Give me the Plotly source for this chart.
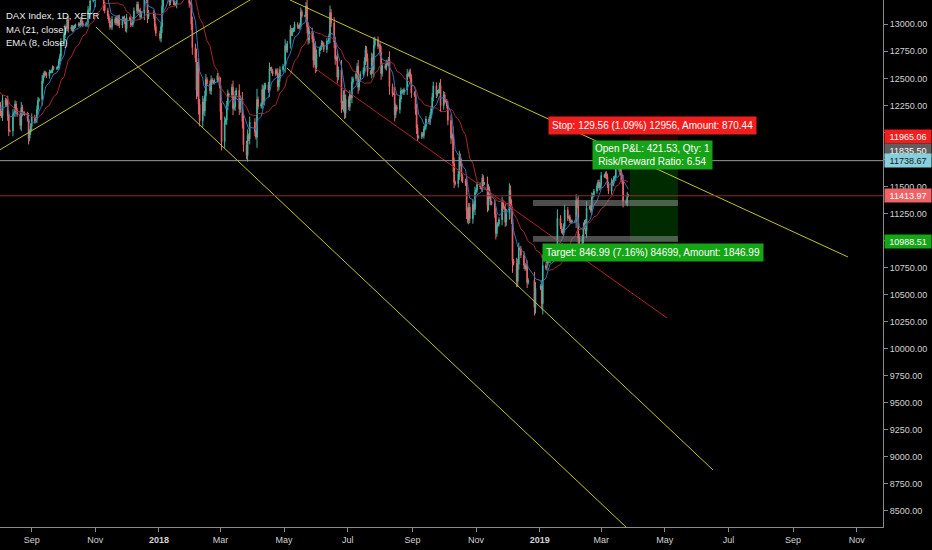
import pandas as pd
import numpy as np
import plotly.graph_objects as go

# ---------------- daily closes (DAX, XETR) read per month ----------------
close_2017_07 = [12475, 12437, 12453, 12381, 12389, 12445, 12437, 12627, 12641, 12631,
                 12587, 12430, 12447, 12240, 12240, 12209, 12265, 12305, 12212, 12162, 12118]
close_2017_08 = [12251, 12181, 12154, 12298, 12257, 12293, 12154, 12014, 12014, 12165,
                 12177, 12263, 12204, 12165, 12065, 12230, 12174, 12180, 12167, 12123,
                 11945, 12002, 12055]
close_2017_09 = [12142, 12102, 12123, 12214, 12296, 12304, 12475, 12524, 12553, 12540,
                 12519, 12559, 12561, 12569, 12600, 12592, 12595, 12605, 12657, 12704, 12829]
close_2017_10 = [12902, 12970, 12968, 13043, 12956, 12976, 12949, 12970, 12982, 12992,
                 13003, 12995, 13043, 13013, 12991, 13003, 13013, 13128, 13134, 13217,
                 13229, 13229]
close_2017_11 = [13465, 13440, 13479, 13468, 13478, 13382, 13183, 13127, 13074, 13034,
                 12977, 12976, 13047, 13015, 13058, 13008, 13060, 12993, 13048, 13059,
                 13023, 12960]
close_2017_12 = [13058, 13049, 12999, 12998, 13045, 13124, 13183, 13125, 13126, 13068,
                 13103, 13312, 13430, 13252, 13069, 13110, 13072, 12979, 12918]
close_2018_01 = [12871, 12978, 13167, 13320, 13367, 13385, 13282, 13202, 13245, 13201,
                 13183, 13184, 13281, 13434, 13463, 13559, 13415, 13298, 13340, 13325,
                 13197, 13189]
close_2018_02 = [13004, 12785, 12687, 12393, 12590, 12260, 12107, 12282, 12197, 12339,
                 12490, 12451, 12385, 12488, 12470, 12461, 12483, 12527, 12490, 12435]
close_2018_03 = [12190, 11914, 12091, 12114, 12245, 12356, 12346, 12418, 12221, 12238,
                 12345, 12390, 12217, 12307, 12309, 12100, 11886, 11787, 11970, 11940, 12096]
close_2018_04 = [12002, 11957, 12305, 12241, 12261, 12397, 12293, 12415, 12442, 12391,
                 12585, 12591, 12567, 12540, 12572, 12550, 12422, 12500, 12580, 12612]
close_2018_05 = [12802, 12763, 12820, 12948, 12912, 12944, 12955, 13001, 12977, 12970,
                 12996, 13114, 13077, 13078, 13170, 12977, 12855, 12938, 12863, 12666,
                 12784, 12605]
close_2018_06 = [12724, 12770, 12787, 12830, 12811, 12767, 12842, 12842, 12891, 13107,
                 13011, 12835, 12677, 12695, 12512, 12580, 12270, 12233, 12348, 12177, 12306]
close_2018_07 = [12238, 12350, 12318, 12465, 12497, 12543, 12610, 12418, 12492, 12541,
                 12580, 12662, 12765, 12686, 12561, 12548, 12690, 12579, 12809, 12860,
                 12798, 12806]
close_2018_08 = [12737, 12546, 12616, 12598, 12648, 12634, 12676, 12424, 12358, 12358,
                 12163, 12237, 12211, 12309, 12384, 12385, 12366, 12395, 12538, 12527,
                 12561, 12494, 12364]
close_2018_09 = [12346, 12210, 12040, 11955, 11959, 11987, 11970, 12032, 12055, 12124,
                 12096, 12158, 12219, 12326, 12431, 12350, 12375, 12385, 12435, 12247]
close_2018_10 = [12346, 12287, 12287, 12244, 12111, 11947, 11977, 11712, 11539, 11524,
                 11614, 11777, 11715, 11589, 11553, 11524, 11274, 11191, 11307, 11201,
                 11335, 11287, 11447]
close_2018_11 = [11468, 11519, 11494, 11484, 11579, 11527, 11529, 11325, 11472, 11412,
                 11353, 11341, 11244, 11066, 11138, 11154, 11193, 11354, 11309, 11298,
                 11170, 11257]
close_2018_12 = [11465, 11335, 11200, 10811, 10788, 10622, 10780, 10931, 10924, 10865,
                 10772, 10740, 10766, 10611, 10634, 10381, 10559]
close_2019_01 = [10580, 10416, 10768, 10747, 10804, 10894, 10821, 10888, 10856, 10891,
                 10931, 10919, 11205, 11136, 11090, 11071, 11131, 11282, 11210, 11219,
                 11182, 11173]
close_2019_02 = [11180, 11176, 11368, 11324, 11022, 10906, 11014, 11127, 11167, 11089,
                 11299, 11309, 11278, 11402, 11423, 11457, 11505, 11540, 11487, 11516]
close_2019_03 = [11602, 11593, 11620, 11588, 11517, 11458, 11543, 11525, 11572, 11587,
                 11685, 11657, 11788, 11603, 11550, 11364, 11346, 11419, 11414]

months = [
    ("2017-07", close_2017_07), ("2017-08", close_2017_08), ("2017-09", close_2017_09),
    ("2017-10", close_2017_10), ("2017-11", close_2017_11), ("2017-12", close_2017_12),
    ("2018-01", close_2018_01), ("2018-02", close_2018_02), ("2018-03", close_2018_03),
    ("2018-04", close_2018_04), ("2018-05", close_2018_05), ("2018-06", close_2018_06),
    ("2018-07", close_2018_07), ("2018-08", close_2018_08), ("2018-09", close_2018_09),
    ("2018-10", close_2018_10), ("2018-11", close_2018_11), ("2018-12", close_2018_12),
    ("2019-01", close_2019_01), ("2019-02", close_2019_02), ("2019-03", close_2019_03),
]
exchange_holidays = ["2017-12-25", "2017-12-26", "2018-01-01", "2018-03-30", "2018-04-02",
                     "2018-05-01", "2018-12-24", "2018-12-25", "2018-12-26", "2018-12-31",
                     "2019-01-01"]

# ---------------- drawings (dates, prices) ----------------
trend_yellow = {
    "asc":   (["2017-08-01 14:00", "2018-05-16 05:00"], [11840, 13502]),
    "outer": (["2017-11-01 14:00", "2019-04-03 07:00"], [12975, 8264]),
    "inner": (["2018-05-03 17:00", "2019-06-16 05:00"], [12596, 8878]),
    "upper": (["2018-05-06 14:00", "2019-10-23 14:00"], [13225, 10848]),
}
trend_red_x = ["2018-05-28 15:00", "2019-05-03 02:00"]
trend_red_y = [12605, 10284]

last_price = 11413.97
hline_price = 11738.67
entry_price = 11835.50
stop_price = 11965.06
target_price = 10988.51
pos_x = ["2019-03-28 14:00", "2019-05-13 14:00"]
pos_label_x = "2019-04-19 14:00"
zone_x = ["2018-12-25 14:00", "2019-05-13 14:00"]
zone_upper = [11320, 11375]
zone_lower = [10988, 11042]

x_tickvals = ["2017-09-01", "2017-11-01", "2018-01-01", "2018-03-01", "2018-05-01",
              "2018-07-01", "2018-09-01", "2018-11-01", "2019-01-01", "2019-03-01",
              "2019-05-01", "2019-07-01", "2019-09-01", "2019-11-01"]
x_ticktext = ["Sep", "Nov", "<b>2018</b>", "Mar", "May", "Jul", "Sep", "Nov",
              "<b>2019</b>", "Mar", "May", "Jul", "Sep", "Nov"]

y_tickvals = [8500, 8750, 9000, 9250, 9500, 9750, 10000, 10250, 10500, 10750, 11000,
              11250, 11500, 11750, 12000, 12250, 12500, 12750, 13000]
y_hidden = [11000, 11750, 12000]   # covered by the price labels in the reference

# ---------------- build series ----------------
hol = pd.to_datetime(exchange_holidays)
dates, closes = [], []
for ym, vals in months:
    start = pd.Timestamp(ym + "-01")
    bd = pd.bdate_range(start, start + pd.offsets.MonthEnd(0))
    bd = bd[~bd.isin(hol)]
    n = min(len(bd), len(vals))
    dates.extend(list(bd[:n]))
    closes.extend(vals[:n])

close = np.array(closes, dtype=float)
opens = np.concatenate([[close[0]], close[:-1]])
body_hi = np.maximum(opens, close)
body_lo = np.minimum(opens, close)
wick = 0.25 * np.abs(close - opens) + 12
highs = body_hi + wick
lows = body_lo - wick

s = pd.Series(close, index=pd.DatetimeIndex(dates))
ma21 = s.rolling(21).mean()
ema8 = s.ewm(span=8, adjust=False).mean()

BG = "#000000"
AX = "#8a8a8a"
TXT = "#d2d2d2"
FONT = "Liberation Sans"

fig = go.Figure()

# position tool zones
fig.add_shape(type="rect", xref="x", yref="y", x0=pos_x[0], x1=pos_x[1],
              y0=target_price, y1=entry_price, fillcolor="rgba(0,150,0,0.28)",
              line=dict(width=0), layer="below")
fig.add_shape(type="rect", xref="x", yref="y", x0=pos_x[0], x1=pos_x[1],
              y0=entry_price, y1=stop_price, fillcolor="rgba(170,0,0,0.3)",
              line=dict(width=0), layer="below")

fig.add_trace(go.Candlestick(
    x=dates, open=opens, high=highs, low=lows, close=close,
    increasing=dict(line=dict(color="#3fb8a6", width=1), fillcolor="#3fb8a6"),
    decreasing=dict(line=dict(color="#f0646a", width=1), fillcolor="#f0646a"),
    whiskerwidth=0, showlegend=False, hoverinfo="skip"))

fig.add_trace(go.Scatter(x=ma21.index, y=ma21.values, mode="lines",
                         line=dict(color="#a3262e", width=1), showlegend=False, hoverinfo="skip"))
fig.add_trace(go.Scatter(x=ema8.index, y=ema8.values, mode="lines",
                         line=dict(color="#2f74b5", width=1), showlegend=False, hoverinfo="skip"))

for key, (xs, ys) in trend_yellow.items():
    fig.add_trace(go.Scatter(x=xs, y=ys, mode="lines", line=dict(color="#c2c22e", width=1),
                             showlegend=False, hoverinfo="skip"))
fig.add_trace(go.Scatter(x=trend_red_x, y=trend_red_y, mode="lines",
                         line=dict(color="#b0202c", width=1), showlegend=False, hoverinfo="skip"))

# horizontal lines
fig.add_shape(type="line", xref="paper", yref="y", x0=0, x1=1, y0=hline_price, y1=hline_price,
              line=dict(color="#9a9a9a", width=1))
fig.add_shape(type="line", xref="paper", yref="y", x0=0, x1=1, y0=last_price, y1=last_price,
              line=dict(color="#8e2a30", width=1))

# grey zones
for z in (zone_upper, zone_lower):
    fig.add_shape(type="rect", xref="x", yref="y", x0=zone_x[0], x1=zone_x[1],
                  y0=z[0], y1=z[1], fillcolor="rgba(140,140,140,0.55)",
                  line=dict(width=0), layer="above")

# position labels
lab_font = dict(family=FONT, size=10, color="#ffffff")
fig.add_annotation(x=pos_label_x, y=stop_price, xref="x", yref="y", yanchor="bottom", yshift=1,
                   text="Stop: 129.56 (1.09%) 12956, Amount: 870.44", showarrow=False,
                   bgcolor="#f21d1d", borderpad=3, font=lab_font)
fig.add_annotation(x=pos_label_x, y=11790, xref="x", yref="y", yanchor="middle",
                   text="Open P&L: 421.53, Qty: 1<br>Risk/Reward Ratio: 6.54", showarrow=False,
                   bgcolor="#17a317", borderpad=2, font=lab_font)
fig.add_annotation(x=pos_label_x, y=target_price, xref="x", yref="y", yanchor="top", yshift=-1,
                   text="Target: 846.99 (7.16%) 84699, Amount: 1846.99", showarrow=False,
                   bgcolor="#14a614", borderpad=3, font=lab_font)

# axis price labels
axis_labels = [
    (stop_price, "#f21d1d", "#ffffff"),
    (entry_price, "#5e5e5e", "#ffffff"),
    (hline_price, "#86d0de", "#1a1a1a"),
    (last_price, "#ef6366", "#ffffff"),
    (target_price, "#14a614", "#ffffff"),
]
for price, bg, fg in axis_labels:
    fig.add_annotation(x=1, xref="paper", y=price, yref="y", xanchor="left", yanchor="middle",
                       xshift=1, text=f"{price:.2f}", showarrow=False, bgcolor=bg,
                       width=44, height=11, align="center", borderpad=1,
                       font=dict(family=FONT, size=9, color=fg))

# header legend
for i, t in enumerate(["DAX Index, 1D, XETR", "MA (21, close)", "EMA (8, close)"]):
    fig.add_annotation(x=0, xref="paper", y=1, yref="paper", xanchor="left", yanchor="top",
                       xshift=4, yshift=-8 - i * 13.5, text=t, showarrow=False,
                       font=dict(family=FONT, size=9.5, color="#ececec"))

fig.update_layout(
    width=932, height=550,
    margin=dict(l=0, r=49, t=0, b=23),
    paper_bgcolor=BG, plot_bgcolor=BG,
    showlegend=False,
    boxgap=0.1,
    font=dict(family=FONT, color=TXT, size=9),
    xaxis=dict(type="date", range=["2017-08-01 14:00", "2019-11-26 05:00"],
               tickvals=x_tickvals, ticktext=x_ticktext,
               showgrid=False, zeroline=False, showline=True, linecolor=AX, linewidth=1,
               ticks="outside", ticklen=4, tickcolor=AX,
               tickfont=dict(family=FONT, size=9, color=TXT),
               rangeslider=dict(visible=False), fixedrange=True),
    yaxis=dict(side="right", range=[8350.5, 13224.7],
               tickvals=y_tickvals,
               ticktext=["" if v in y_hidden else f"{v:.2f}" for v in y_tickvals],
               showgrid=False, zeroline=False, showline=True, linecolor=AX, linewidth=1,
               ticks="outside", ticklen=4, tickcolor=AX,
               tickfont=dict(family=FONT, size=9, color=TXT), fixedrange=True),
)

fig.write_html("out.html", config={"displayModeBar": False},
               post_script="document.body.style.margin='0';document.body.style.background='#000';")
